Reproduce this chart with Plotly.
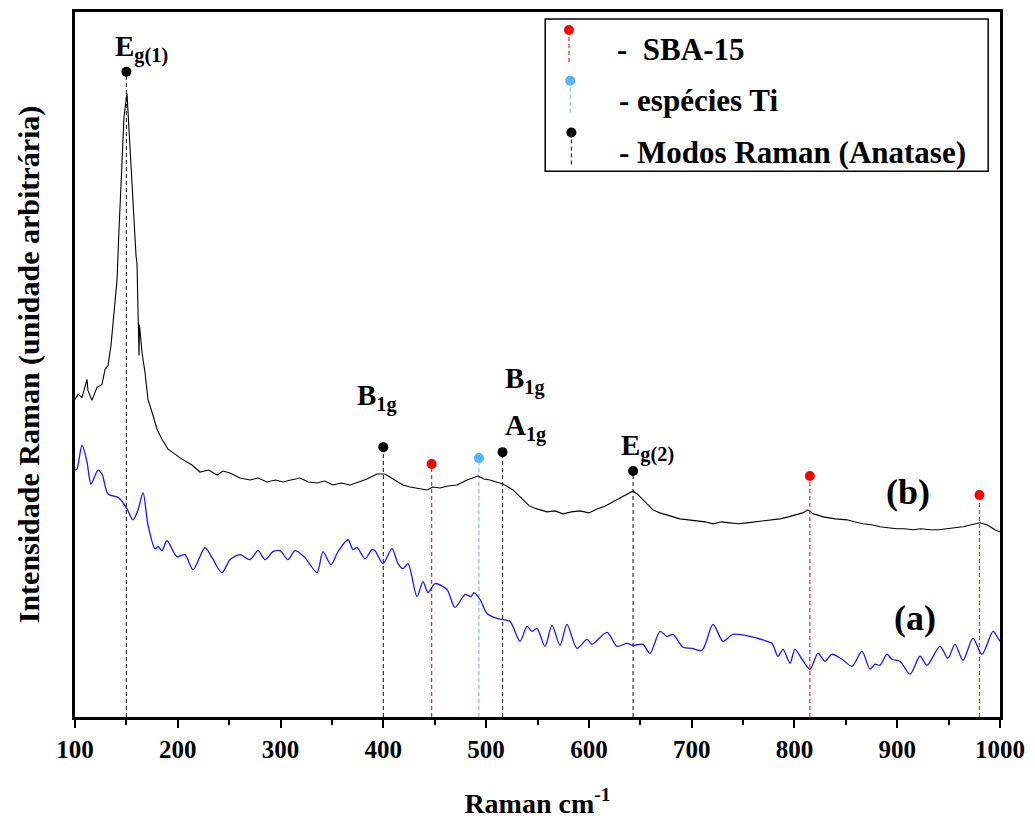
import plotly.graph_objects as go

# ---- spectrum (b): TiO2/SBA-15 (black) ----
b_x = [100, 102.9, 106.8, 111.7, 112.6, 116.5, 121.4, 126.3, 129.2, 132.1, 135.0, 137.0, 140.9,
       142.8, 145.7, 147.7, 150.6, 153.5, 156.4, 159.4, 160.3, 161.3, 162.3, 162.7, 165.2, 168.1,
       171.0, 175.9, 179.8, 184.6, 190.5, 197.3, 204.1, 213.8, 221.6, 230.0, 238.2, 244.0, 250.8,
       260.5, 270.3, 278.0, 286.8, 295.0, 302.4, 310.0, 318.9, 327.0, 335.5, 343.0, 351.0, 359.0,
       367.6, 376.0, 384.1, 393.8, 401.6, 409.4, 419.1, 426.0, 432.8, 442.5, 448.0, 455.1, 463.0,
       471.7, 481.4, 492.1, 498.0, 503.8, 510.0, 516.4, 526.2, 535.9, 542.0, 549.5, 559.2, 567.0,
       574.8, 583.0, 591.4, 600.0, 607.9, 616.0, 623.5, 633.2, 638.0, 642.9, 647.0, 652.6, 662.4,
       669.0, 676.0, 682.0, 688.6, 697.0, 705.2, 713.0, 720.8, 729.0, 737.3, 745.0, 753.8, 762.0,
       769.4, 778.0, 786.0, 794.0, 802.5, 808.0, 813.2, 815.5, 818.1, 822.0, 827.8, 840.0, 851.1,
       858.0, 866.7, 875.0, 883.2, 891.0, 899.8, 907.0, 915.4, 923.0, 931.9, 940.0, 948.4, 956.0,
       964.0, 972.0, 980.5, 987.4, 995.1, 1000]
b_y = [319, 324, 321, 339, 328, 318, 331, 334, 349, 353, 373, 396, 439,
       489, 556, 603, 626, 573, 513, 463, 456, 399, 363, 394, 366, 346,
       319, 303, 289, 279, 269, 264, 259, 253, 246, 248, 243, 247, 245,
       240, 238, 240, 236, 238, 236, 238, 240, 236, 235, 237, 233, 235,
       233, 236, 239, 244, 244, 239, 233, 231, 230, 228, 231, 230, 232,
       233, 238, 242, 239, 238, 236, 234, 228, 218, 212, 209, 206, 207,
       204, 206, 207, 205, 209, 212, 216, 222, 224, 227, 224, 218, 208,
       205, 203, 201, 199, 198, 197, 196, 194, 196, 195, 194, 195, 196,
       197, 198, 199, 201, 203, 205, 208, 206, 204, 203, 201, 199, 198,
       196, 194, 193, 191, 190, 189, 189, 188, 189, 188, 188, 189, 190,
       191, 193, 195, 193, 188, 186]

# ---- spectrum (a): SBA-15 (blue) ----
a_x = [100, 101.9, 106.8, 111.7, 115.6, 122.4, 126.3, 132.1, 140.9, 143.8, 150.6, 156.4, 161.3,
       166.2, 171.0, 177.8, 180.8, 184.6, 189.5, 199.2, 207.0, 214.8, 226.5, 233.3, 243.0, 250.8,
       260.5, 270.3, 278.1, 284.9, 292.6, 299.5, 307.2, 314.1, 323.8, 335.5, 341.3, 349.1, 355.9,
       365.6, 370.5, 374.4, 382.2, 389.0, 391.9, 399.7, 408.4, 414.3, 419.1, 424.0, 432.8, 438.6,
       443.5, 450.3, 461.9, 469.7, 479.5, 485.3, 488.2, 494.1, 500.9, 510.6, 523.2, 533.0, 539.8,
       544.6, 549.5, 557.3, 564.1, 571.9, 578.7, 588.4, 598.2, 603.0, 617.6, 627.4, 637.1, 642.9,
       652.6, 659.5, 669.2, 676.0, 681.8, 691.6, 700.3, 710.1, 720.8, 730.5, 740.2, 756.8, 773.3,
       778.2, 784.0, 788.9, 795.7, 800.5, 807.4, 815.1, 822.9, 829.7, 836.5, 846.3, 856.0, 865.7,
       873.5, 878.4, 883.2, 890.0, 894.9, 902.7, 912.4, 922.2, 929.0, 941.6, 949.4, 956.2, 964.0,
       973.7, 982.5, 993.2, 998.1, 1000]
a_y = [248, 249, 273, 256, 234, 248, 244, 224, 221, 219, 209, 198, 208,
       225, 193, 169, 171, 167, 177, 161, 163, 148, 170, 160, 145, 158,
       163, 158, 167, 158, 166, 167, 158, 167, 160, 145, 166, 153, 166,
       178, 168, 170, 159, 168, 167, 154, 169, 154, 149, 154, 121, 136,
       125, 134, 128, 110, 123, 121, 125, 118, 104, 99, 96, 76, 91,
       86, 89, 71, 92, 72, 93, 69, 78, 73, 85, 71, 74, 72,
       73, 64, 86, 81, 83, 70, 69, 67, 93, 76, 83, 81, 76,
       74, 61, 68, 54, 68, 58, 48, 64, 56, 63, 58, 51, 66,
       48, 53, 52, 63, 58, 56, 43, 61, 52, 71, 59, 73, 57,
       79, 63, 86, 79, 76]

# ---- band markers ----
band_pos = [150, 400, 516, 643, 447, 815, 980, 493]
band_top = [648, 271, 266, 247, 254, 242, 223, 260]
band_kind = ["anatase", "anatase", "anatase", "anatase", "sba", "sba", "sba", "ti"]
kind_color = {"anatase": "#000000", "sba": "#ff0000", "ti": "#4db8f5"}
line_color = {"anatase": "#333333", "sba": "#ff2020", "ti": "#6ec6f7"}

legend_items = ["-  SBA-15", "- espécies Ti", "- Modos Raman (Anatase)"]
legend_kinds = ["sba", "ti", "anatase"]

x_ticks = [100, 200, 300, 400, 500, 600, 700, 800, 900, 1000]

FONT = "Liberation Serif"

fig = go.Figure()

# dashed guide lines
for pos, top, k in zip(band_pos, band_top, band_kind):
    fig.add_trace(go.Scatter(x=[pos, pos], y=[0, top], mode="lines",
                             line=dict(color=line_color[k], width=1.2, dash="4px,3px"),
                             showlegend=False, hoverinfo="skip"))

fig.add_trace(go.Scatter(x=a_x, y=a_y, mode="lines", line=dict(color="#1515ff", width=1.3,
                         shape="spline", smoothing=0.8), showlegend=False))
fig.add_trace(go.Scatter(x=b_x, y=b_y, mode="lines", line=dict(color="#000000", width=1.1),
                         showlegend=False))

for pos, top, k in zip(band_pos, band_top, band_kind):
    fig.add_trace(go.Scatter(x=[pos], y=[top], mode="markers",
                             marker=dict(color=kind_color[k], size=10),
                             showlegend=False, hoverinfo="skip"))

# legend box (drawn)
fig.add_shape(type="rect", x0=557.5, x1=988.5, y0=548, y1=701,
              line=dict(color="black", width=1.5), fillcolor="white", layer="below")
leg_y = [690, 639, 587]
for i, (txt, k) in enumerate(zip(legend_items, legend_kinds)):
    yy = leg_y[i]
    xx = 580.6 + i * 1.2
    fig.add_shape(type="line", x0=xx, x1=xx, y0=yy, y1=yy - 35,
                  line=dict(color=line_color[k], width=1.2, dash="4px,3px"))
    fig.add_trace(go.Scatter(x=[xx], y=[yy], mode="markers",
                             marker=dict(color=kind_color[k], size=10),
                             showlegend=False, hoverinfo="skip"))
    fig.add_annotation(x=625.5 if i == 0 else 627, y=yy - 20, text="<b>" + txt + "</b>",
                       showarrow=False, xanchor="left", yanchor="middle",
                       font=dict(family=FONT, size=31, color="black"))

labels = [
    (165, 671, "E<sub>g(1)</sub>"),
    (394, 321, "B<sub>1g</sub>"),
    (538, 338, "B<sub>1g</sub>"),
    (538, 291, "A<sub>1g</sub>"),
    (657, 271, "E<sub>g(2)</sub>"),
]
for x, y, t in labels:
    fig.add_annotation(x=x, y=y, text="<b>" + t + "</b>", showarrow=False,
                       xanchor="center", yanchor="middle",
                       font=dict(family=FONT, size=29, color="black"))

fig.add_annotation(x=910.5, y=226, text="<b>(b)</b>", showarrow=False,
                   font=dict(family=FONT, size=36, color="black"))
fig.add_annotation(x=917, y=99, text="<b>(a)</b>", showarrow=False,
                   font=dict(family=FONT, size=36, color="black"))

fig.update_layout(
    width=1027, height=816,
    margin=dict(l=67, r=35, t=1, b=107),
    paper_bgcolor="white", plot_bgcolor="white",
    font=dict(family=FONT, color="black"),
    xaxis=dict(range=[100, 1000], tickvals=x_ticks, ticktext=["<b>%d</b>" % v for v in x_ticks],
               ticks="outside", ticklen=8, tickwidth=2, tickcolor="black",
               minor=dict(dtick=50, ticks="outside", ticklen=5, tickwidth=2, tickcolor="black"),
               showline=True, linewidth=2.5, linecolor="black", mirror=True,
               showgrid=False, zeroline=False,
               tickfont=dict(family=FONT, size=25, color="black"),
               title=dict(text="<b>Raman cm<sup>-1</sup></b>", standoff=32,
                          font=dict(family=FONT, size=28, color="black"))),
    yaxis=dict(range=[0, 708], showticklabels=False, ticks="",
               showline=True, linewidth=2.5, linecolor="black", mirror=True,
               showgrid=False, zeroline=False,
               title=dict(text="<b>Intensidade Raman (unidade arbitrária)</b>", standoff=24,
                          font=dict(family=FONT, size=30, color="black"))),
)

fig.write_html("out.html")
